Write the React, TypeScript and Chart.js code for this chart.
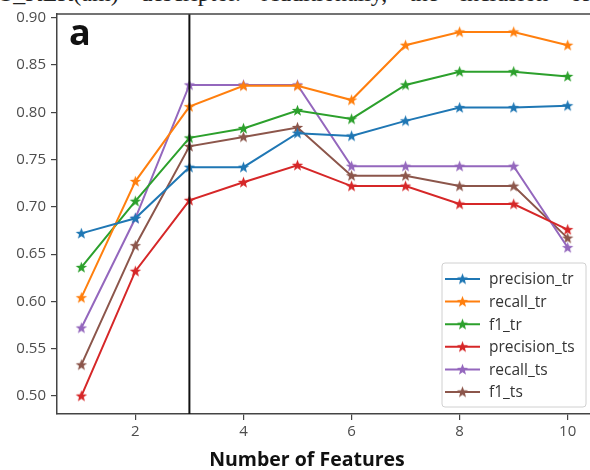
import React, { useEffect, useRef } from "react";
import { Chart, registerables } from "chart.js";

Chart.register(...registerables);

const features = [1, 2, 3, 4, 5, 6, 7, 8, 9, 10];
const precisionTr = [0.672, 0.688, 0.742, 0.742, 0.778, 0.775, 0.791, 0.805, 0.805, 0.807];
const recallTr = [0.604, 0.727, 0.806, 0.828, 0.828, 0.813, 0.871, 0.885, 0.885, 0.871];
const f1Tr = [0.636, 0.706, 0.773, 0.783, 0.802, 0.793, 0.829, 0.843, 0.843, 0.838];
const precisionTs = [0.5, 0.632, 0.707, 0.726, 0.744, 0.722, 0.722, 0.703, 0.703, 0.676];
const recallTs = [0.572, 0.688, 0.829, 0.829, 0.829, 0.743, 0.743, 0.743, 0.743, 0.657];
const f1Ts = [0.533, 0.659, 0.764, 0.774, 0.784, 0.733, 0.733, 0.722, 0.722, 0.667];

const seriesNames = ["precision_tr", "recall_tr", "f1_tr", "precision_ts", "recall_ts", "f1_ts"];
const seriesValues = [precisionTr, recallTr, f1Tr, precisionTs, recallTs, f1Ts];
const seriesColors = ["#1f77b4", "#ff7f0e", "#2ca02c", "#d62728", "#9467bd", "#8c564b"];

const yTicks = [0.5, 0.55, 0.6, 0.65, 0.7, 0.75, 0.8, 0.85, 0.9];
const xTicks = [2, 4, 6, 8, 10];
const selectedFeatures = 3;

function makeStar(color: string): HTMLCanvasElement {
  const c = document.createElement("canvas");
  c.width = 13;
  c.height = 13;
  const ctx = c.getContext("2d")!;
  ctx.beginPath();
  for (let i = 0; i < 10; i++) {
    const r = i % 2 === 0 ? 6 : 2.5;
    const a = -Math.PI / 2 + (i * Math.PI) / 5;
    const px = 6.5 + r * Math.cos(a);
    const py = 6.8 + r * Math.sin(a);
    if (i === 0) ctx.moveTo(px, py);
    else ctx.lineTo(px, py);
  }
  ctx.closePath();
  ctx.fillStyle = color;
  ctx.fill();
  return c;
}

const FONT = "'Open Sans', 'DejaVu Sans', sans-serif";

export default function App() {
  const ref = useRef<HTMLCanvasElement>(null);

  useEffect(() => {
    if (!ref.current) return;
    const stars = seriesColors.map(makeStar);

    const vlinePlugin = {
      id: "vline",
      afterDatasetsDraw(chart: any) {
        const { ctx, chartArea, scales } = chart;
        const x = scales.x.getPixelForValue(selectedFeatures);
        ctx.save();
        ctx.strokeStyle = "#111";
        ctx.lineWidth = 2;
        ctx.beginPath();
        ctx.moveTo(x, chartArea.top);
        ctx.lineTo(x, chartArea.bottom);
        ctx.stroke();
        ctx.strokeStyle = "#444";
        ctx.lineWidth = 1.5;
        ctx.beginPath();
        ctx.moveTo(chartArea.left, chartArea.top);
        ctx.lineTo(chartArea.right, chartArea.top);
        ctx.stroke();
        ctx.restore();
      },
    };

    const legendPlugin = {
      id: "mplLegend",
      afterDraw(chart: any) {
        const { ctx, chartArea } = chart;
        const right = chartArea.right - 6;
        const bottom = chartArea.bottom - 7;
        const w = 144;
        const h = 144;
        const left = right - w;
        const top = bottom - h;
        ctx.save();
        ctx.fillStyle = "rgba(255,255,255,0.85)";
        ctx.strokeStyle = "#d0d0d0";
        ctx.lineWidth = 1;
        ctx.beginPath();
        ctx.roundRect(left, top, w, h, 3);
        ctx.fill();
        ctx.stroke();
        ctx.font = `15.5px ${FONT}`;
        ctx.textBaseline = "middle";
        ctx.textAlign = "left";
        seriesNames.forEach((name, i) => {
          const y = top + 16 + i * 22.6;
          ctx.strokeStyle = seriesColors[i];
          ctx.lineWidth = 2;
          ctx.beginPath();
          ctx.moveTo(left + 3, y);
          ctx.lineTo(left + 38, y);
          ctx.stroke();
          const s = stars[i];
          ctx.drawImage(s, left + 20.5 - s.width / 2, y - s.height / 2);
          ctx.fillStyle = "#333";
          ctx.fillText(name, left + 47, y + 1);
        });
        ctx.restore();
      },
    };

    const chart = new Chart(ref.current, {
      type: "line",
      data: {
        datasets: seriesNames.map((name, i) => ({
          label: name,
          data: features.map((f, j) => ({ x: f, y: seriesValues[i][j] })),
          borderColor: seriesColors[i],
          backgroundColor: seriesColors[i],
          borderWidth: 2,
          tension: 0,
          pointStyle: stars[i] as any,
          pointRadius: 5,
          fill: false,
        })),
      },
      options: {
        responsive: false,
        animation: false,
        devicePixelRatio: 1,
        layout: { padding: { top: 14, left: 0, right: 8, bottom: 0 } },
        plugins: {
          legend: { display: false },
          tooltip: { enabled: false },
        },
        scales: {
          x: {
            type: "linear",
            min: 0.55,
            max: 10.45,
            afterBuildTicks: (axis: any) => {
              axis.ticks = xTicks.map((v) => ({ value: v }));
            },
            afterFit: (axis: any) => {
              axis.height = 56;
            },
            ticks: {
              font: { family: FONT, size: 15 },
              color: "#4d4d4d",
              padding: 3,
              maxRotation: 0,
              callback: (v: any) => String(v),
            },
            grid: {
              drawOnChartArea: false,
              drawTicks: true,
              tickLength: 6,
              color: "#444",
              lineWidth: 1.2,
            },
            border: { display: true, color: "#444", width: 1.5 },
          },
          y: {
            type: "linear",
            min: 0.481,
            max: 0.904,
            afterBuildTicks: (axis: any) => {
              axis.ticks = yTicks.map((v) => ({ value: v }));
            },
            afterFit: (axis: any) => {
              axis.width = 57;
            },
            ticks: {
              font: { family: FONT, size: 15 },
              color: "#4d4d4d",
              padding: 5,
              callback: (v: any) => Number(v).toFixed(2),
            },
            grid: {
              drawOnChartArea: false,
              drawTicks: true,
              tickLength: 6,
              color: "#444",
              lineWidth: 1.2,
            },
            border: { display: true, color: "#444", width: 1.5 },
          },
        },
      },
      plugins: [vlinePlugin, legendPlugin],
    });
    return () => chart.destroy();
  }, []);

  return (
    <div
      style={{
        position: "fixed",
        left: 0,
        top: 0,
        width: 590,
        height: 470,
        overflow: "hidden",
        background: "#fff",
      }}
    >
      <div
        style={{
          position: "absolute",
          left: 0,
          top: -19,
          width: 590,
          fontFamily: "'Liberation Serif', serif",
          fontSize: 24,
          lineHeight: "24px",
          textAlign: "justify",
          textAlignLast: "justify",
          color: "#222",
        } as any}
      >
        S_KLR(am) descriptor. Additionally, the inclusion of
      </div>
      <canvas ref={ref} width={600} height={470} style={{ position: "absolute", left: 0, top: 0, width: 600, height: 470 }} />
      <div
        style={{
          position: "absolute",
          left: 69,
          top: 9,
          fontFamily: FONT,
          fontWeight: 700,
          fontSize: 36,
          lineHeight: "46px",
          color: "#111",
        }}
      >
        a
      </div>
      <div
        style={{
          position: "absolute",
          left: 107,
          width: 400,
          top: 445,
          textAlign: "center",
          fontFamily: FONT,
          fontWeight: 700,
          fontSize: 19.5,
          lineHeight: "28px",
          color: "#111",
        }}
      >
        Number of Features
      </div>
    </div>
  );
}
